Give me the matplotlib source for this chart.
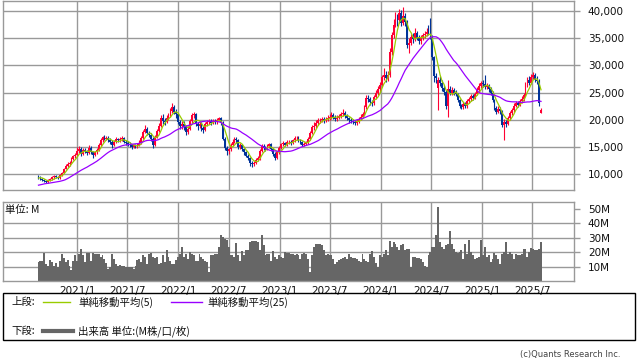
import matplotlib
matplotlib.use("Agg")
import matplotlib.pyplot as plt
import matplotlib.dates as mdates
from matplotlib.lines import Line2D
from matplotlib.patches import Rectangle
import pandas as pd
import numpy as np

# ---------------- data (prices in thousands of yen, volume in millions) ----------------
first_week = "2020-08-14"

# weekly closes before the visible window (only used to seed the moving averages)
closes_before = [7.4, 6.8, 6.4, 7.0, 7.6, 7.9, 8.0, 7.8, 8.1, 8.3, 8.0, 8.2, 8.4, 8.2,
                 7.0, 7.2, 7.4, 7.5, 7.8, 8.2, 8.8, 9.2, 9.5, 9.6]

open_k = [
    9.6, 9.4, 9.1, 8.9, 8.7, 8.5, 8.9, 9.1, 9.4, 9.6, 9.5, 9.3, 9.9, 10.3, 11.0, 11.6, 11.8, 12.1, 12.8, 13.3,
    13.5, 14.2, 14.7, 13.8, 14.4, 14.2, 13.9, 14.8, 14.1, 13.6, 14.0, 14.4, 15.4, 16.3, 16.8, 16.5, 16.7, 16.3, 16.0, 15.4,
    16.0, 16.4, 16.2, 16.4, 16.6, 16.0, 15.7, 15.6, 15.3, 15.0, 15.3, 15.1, 15.3, 15.8, 16.6, 17.8, 18.4, 17.6, 17.3, 16.5,
    15.4, 16.8, 18.0, 18.9, 20.3, 19.8, 19.6, 20.4, 20.9, 21.6, 22.4, 21.5, 21.0, 19.6, 18.8, 19.3, 18.6, 17.8, 18.4, 19.8,
    20.8, 21.0, 19.2, 18.8, 19.3, 18.5, 18.2, 19.2, 19.6, 19.8, 19.5, 19.8, 19.6, 20.0, 20.3, 19.5, 16.5, 14.8, 14.2, 14.6,
    15.4, 16.0, 16.5, 16.2, 15.0, 15.3, 14.6, 14.0, 13.4, 13.0, 12.0, 11.9, 12.1, 12.7, 12.9, 14.2, 15.2, 14.9, 14.6, 15.2,
    15.5, 14.6, 13.8, 13.0, 14.0, 14.8, 15.5, 15.8, 15.4, 15.9, 16.0, 15.7, 16.2, 16.6, 16.7, 16.2, 15.9, 15.4, 15.6, 15.8,
    16.5, 17.6, 18.6, 18.8, 19.4, 19.9, 20.0, 20.2, 19.9, 20.1, 20.4, 20.5, 20.8, 20.5, 20.2, 20.4, 20.7, 21.0, 21.2, 20.8,
    20.3, 20.0, 19.8, 19.6, 19.4, 19.7, 20.1, 20.6, 21.0, 22.3, 24.0, 23.8, 23.2, 23.0, 24.2, 24.9, 25.6, 26.4, 27.8, 28.3,
    27.6, 28.2, 32.5, 35.5, 37.5, 38.6, 38.3, 39.7, 37.8, 39.0, 38.0, 33.8, 34.2, 35.2, 34.9, 36.0, 35.0, 34.5, 35.0, 35.5,
    35.8, 36.2, 36.0, 35.2, 31.5, 28.0, 25.8, 27.3, 26.8, 25.8, 25.2, 22.5, 25.6, 25.0, 25.5, 25.0, 24.7, 23.6, 22.6, 22.4,
    22.9, 22.5, 23.4, 23.8, 24.4, 24.0, 24.8, 25.5, 26.2, 26.8, 26.6, 26.0, 26.2, 25.6, 25.0, 23.6, 22.2, 21.5, 22.0, 21.6,
    19.0, 19.6, 19.2, 20.3, 21.2, 21.8, 22.6, 23.0, 22.8, 23.4, 23.8, 24.6, 26.5, 27.3, 26.8, 27.9, 28.2, 27.4, 27.2, 21.3,
]
high_k = [
    9.8, 9.6, 9.3, 9.1, 8.9, 9.1, 9.3, 9.6, 9.8, 9.8, 9.7, 10.1, 10.5, 11.2, 11.9, 12.2, 12.4, 13.1, 13.6, 13.9,
    15.0, 15.1, 15.0, 14.8, 14.8, 14.5, 15.4, 15.1, 14.3, 14.3, 14.8, 15.7, 16.7, 17.1, 17.2, 17.0, 17.0, 16.6, 16.2, 16.3,
    16.8, 16.7, 16.8, 17.0, 16.8, 16.3, 16.1, 15.9, 15.6, 15.6, 15.6, 15.7, 16.2, 17.0, 18.2, 19.0, 18.7, 18.0, 17.6, 16.8,
    17.2, 18.4, 19.4, 20.9, 21.0, 20.3, 20.8, 21.3, 22.1, 23.1, 22.8, 22.0, 21.3, 20.0, 19.8, 19.7, 19.0, 18.9, 20.2, 21.3,
    21.5, 21.2, 19.6, 19.7, 19.6, 18.9, 19.6, 20.0, 20.2, 20.1, 20.2, 20.2, 20.4, 20.6, 20.5, 19.7, 16.8, 15.2, 14.9, 15.8,
    16.4, 16.9, 16.8, 16.4, 15.7, 15.6, 14.9, 14.3, 13.7, 13.2, 12.4, 12.5, 13.0, 13.3, 14.6, 15.5, 15.6, 15.2, 15.5, 15.8,
    15.7, 14.8, 14.1, 14.3, 15.1, 15.8, 16.1, 16.0, 16.2, 16.3, 16.2, 16.5, 17.0, 17.1, 17.0, 16.4, 16.1, 15.9, 16.1, 16.9,
    18.0, 19.1, 19.6, 19.9, 20.3, 20.4, 20.6, 20.5, 20.5, 20.9, 21.0, 21.4, 21.2, 20.9, 20.8, 21.1, 21.5, 21.9, 21.6, 21.0,
    20.6, 20.4, 20.2, 20.0, 20.1, 20.5, 21.0, 21.5, 22.8, 24.5, 24.6, 24.2, 23.7, 24.6, 25.4, 26.2, 27.0, 28.3, 29.5, 28.9,
    28.9, 33.2, 36.2, 38.5, 39.8, 39.5, 40.4, 40.2, 40.8, 39.6, 38.4, 35.0, 35.8, 35.9, 36.9, 36.4, 35.6, 35.5, 36.0, 36.4,
    36.8, 37.4, 38.8, 35.6, 31.8, 28.6, 27.8, 28.0, 27.3, 26.4, 25.5, 27.4, 26.2, 26.0, 25.9, 25.4, 25.0, 23.9, 22.9, 23.3,
    23.2, 23.8, 24.2, 24.8, 24.7, 25.2, 26.0, 26.7, 27.2, 27.3, 28.3, 26.8, 26.6, 26.0, 25.3, 23.9, 22.6, 22.5, 22.4, 21.8,
    20.2, 20.0, 20.7, 21.6, 22.2, 23.0, 23.5, 23.4, 23.9, 24.3, 25.0, 27.0, 27.8, 28.0, 28.5, 28.8, 28.6, 28.0, 27.5, 22.1,
]
low_k = [
    9.2, 8.9, 8.7, 8.5, 8.3, 8.4, 8.7, 9.0, 9.2, 9.3, 9.1, 9.2, 9.7, 10.2, 10.9, 11.3, 11.5, 12.0, 12.6, 13.0,
    13.3, 13.9, 13.4, 13.5, 13.9, 13.5, 13.7, 13.8, 12.9, 13.3, 13.8, 14.2, 15.1, 16.0, 16.2, 16.2, 16.0, 15.6, 14.9, 15.2,
    15.8, 15.9, 15.9, 16.1, 15.7, 15.3, 15.2, 15.0, 14.7, 14.8, 14.8, 14.9, 15.1, 15.6, 16.4, 17.5, 17.3, 16.9, 16.1, 14.8,
    15.2, 16.6, 17.8, 18.7, 19.3, 19.0, 19.4, 20.0, 20.6, 21.3, 21.0, 20.4, 19.2, 18.3, 18.4, 18.1, 17.2, 17.4, 18.2, 19.5,
    20.3, 18.8, 18.2, 18.5, 18.0, 17.6, 18.0, 18.9, 19.3, 19.1, 19.2, 19.2, 19.3, 19.7, 19.1, 16.2, 14.5, 13.6, 13.7, 14.3,
    15.1, 15.7, 15.8, 14.7, 14.7, 14.2, 13.6, 13.1, 12.6, 11.6, 11.4, 11.6, 11.9, 12.4, 12.7, 14.0, 14.5, 14.3, 14.4, 14.9,
    14.3, 13.3, 12.7, 12.8, 13.8, 14.6, 15.2, 15.1, 15.2, 15.6, 15.4, 15.5, 16.0, 16.3, 15.9, 15.5, 15.1, 15.1, 15.3, 15.6,
    16.3, 17.4, 18.1, 18.5, 19.1, 19.5, 19.6, 19.5, 19.6, 19.8, 20.0, 20.2, 20.1, 19.8, 19.8, 20.1, 20.4, 20.7, 20.4, 19.9,
    19.5, 19.4, 19.2, 19.0, 19.1, 19.4, 19.9, 20.3, 20.8, 22.0, 23.2, 22.8, 22.5, 22.7, 23.9, 24.6, 25.2, 26.1, 27.4, 27.0,
    27.2, 27.9, 32.0, 35.0, 37.0, 37.2, 37.8, 37.2, 37.4, 37.3, 33.2, 32.3, 33.8, 34.2, 34.5, 34.6, 34.0, 34.0, 34.6, 35.1,
    35.4, 35.5, 34.8, 31.0, 27.0, 26.8, 21.8, 26.2, 25.3, 24.6, 22.0, 20.6, 24.6, 24.6, 24.5, 24.3, 23.2, 22.2, 22.0, 22.0,
    22.1, 22.2, 23.1, 23.5, 23.6, 23.8, 24.5, 25.2, 25.9, 26.1, 25.6, 25.6, 25.1, 24.5, 23.2, 21.8, 21.0, 21.2, 21.0, 18.6,
    16.3, 18.7, 19.0, 20.0, 20.9, 21.5, 22.3, 22.4, 22.5, 23.1, 23.5, 24.4, 26.1, 26.4, 26.6, 27.5, 26.9, 26.6, 22.6, 21.2,
]
close_k = [
    9.4, 9.1, 8.9, 8.7, 8.5, 8.9, 9.1, 9.4, 9.6, 9.5, 9.3, 9.9, 10.3, 11.0, 11.6, 11.8, 12.1, 12.8, 13.3, 13.5,
    14.2, 14.7, 13.8, 14.4, 14.2, 13.9, 14.8, 14.1, 13.6, 14.0, 14.4, 15.4, 16.3, 16.8, 16.5, 16.7, 16.3, 16.0, 15.4, 16.0,
    16.4, 16.2, 16.4, 16.6, 16.0, 15.7, 15.6, 15.3, 15.0, 15.3, 15.1, 15.3, 15.8, 16.6, 17.8, 18.4, 17.6, 17.3, 16.5, 15.4,
    16.8, 18.0, 18.9, 20.3, 19.8, 19.6, 20.4, 20.9, 21.6, 22.4, 21.5, 21.0, 19.6, 18.8, 19.3, 18.6, 17.8, 18.4, 19.8, 20.8,
    21.0, 19.2, 18.8, 19.3, 18.5, 18.2, 19.2, 19.6, 19.8, 19.5, 19.8, 19.6, 20.0, 20.3, 19.5, 16.5, 14.8, 14.2, 14.6, 15.4,
    16.0, 16.5, 16.2, 15.0, 15.3, 14.6, 14.0, 13.4, 13.0, 12.0, 11.9, 12.1, 12.7, 12.9, 14.2, 15.2, 14.9, 14.6, 15.2, 15.5,
    14.6, 13.8, 13.0, 14.0, 14.8, 15.5, 15.8, 15.4, 15.9, 16.0, 15.7, 16.2, 16.6, 16.7, 16.2, 15.9, 15.4, 15.6, 15.8, 16.5,
    17.6, 18.6, 18.8, 19.4, 19.9, 20.0, 20.2, 19.9, 20.1, 20.4, 20.5, 20.8, 20.5, 20.2, 20.4, 20.7, 21.0, 21.2, 20.8, 20.3,
    20.0, 19.8, 19.6, 19.4, 19.7, 20.1, 20.6, 21.0, 22.3, 24.0, 23.8, 23.2, 23.0, 24.2, 24.9, 25.6, 26.4, 27.8, 28.3, 27.6,
    28.2, 32.5, 35.5, 37.5, 38.6, 38.3, 39.7, 37.8, 39.0, 38.0, 33.8, 34.2, 35.2, 34.9, 36.0, 35.0, 34.5, 35.0, 35.5, 35.8,
    36.2, 36.0, 35.2, 31.5, 28.0, 27.6, 27.3, 26.8, 25.8, 25.2, 22.5, 25.6, 25.0, 25.5, 25.0, 24.7, 23.6, 22.6, 22.4, 22.9,
    22.5, 23.4, 23.8, 24.4, 24.0, 24.8, 25.5, 26.2, 26.8, 26.6, 26.0, 26.2, 25.6, 25.0, 23.6, 22.2, 21.5, 22.0, 21.6, 19.0,
    19.6, 19.2, 20.3, 21.2, 21.8, 22.6, 23.0, 22.8, 23.4, 23.8, 24.6, 26.5, 27.3, 26.8, 27.9, 28.2, 27.4, 27.2, 23.0, 21.8,
]
volume_m = [
    13.0, 14.1, 14.1, 19.2, 11.8, 10.6, 14.6, 13.4, 10.6, 12.3, 10.0, 14.1, 18.3, 16.0, 13.0, 14.6, 10.6, 7.6, 14.1, 17.6,
    14.1, 18.3, 22.2, 17.6, 13.0, 19.2, 19.2, 14.1, 19.2, 18.8, 18.5, 18.8, 16.4, 17.6, 15.3, 12.3, 8.3, 9.5, 18.8, 15.3,
    11.8, 10.6, 11.3, 10.6, 10.6, 10.0, 10.0, 9.5, 9.5, 8.3, 10.6, 14.6, 15.3, 13.0, 17.6, 16.9, 11.8, 18.8, 19.2, 16.4,
    16.0, 16.4, 11.8, 12.5, 17.6, 13.0, 21.1, 16.4, 14.1, 11.8, 11.8, 14.6, 16.4, 18.8, 23.8, 16.4, 18.8, 15.3, 19.9, 18.8,
    17.6, 14.1, 13.7, 18.3, 16.9, 15.3, 14.1, 13.0, 6.0, 17.6, 18.1, 18.3, 18.3, 23.4, 31.5, 30.3, 29.0, 28.0, 23.4, 17.6,
    17.6, 16.9, 26.2, 17.6, 14.1, 20.6, 17.6, 21.5, 21.5, 26.9, 27.5, 27.3, 27.5, 26.9, 21.1, 31.5, 24.5, 17.6, 18.8, 18.8,
    14.1, 20.6, 16.4, 15.3, 17.6, 16.9, 16.0, 19.9, 19.2, 19.0, 18.8, 18.8, 17.6, 18.3, 17.6, 15.3, 18.8, 19.2, 18.3, 15.3,
    6.0, 17.6, 23.4, 25.2, 25.7, 25.2, 24.5, 21.1, 17.6, 18.8, 17.6, 17.6, 15.3, 11.8, 13.0, 14.6, 15.3, 16.0, 16.4, 15.3,
    18.3, 16.4, 16.2, 16.0, 15.3, 14.1, 13.0, 18.3, 15.3, 14.1, 13.0, 18.8, 20.6, 16.4, 12.3, 9.5, 17.6, 16.9, 18.8, 21.1,
    17.6, 27.5, 23.4, 26.9, 25.7, 23.8, 21.1, 24.5, 25.7, 21.1, 22.2, 22.2, 9.5, 16.9, 16.4, 16.2, 16.0, 15.3, 13.0, 10.6,
    9.5, 17.6, 19.9, 23.4, 23.8, 31.5, 51.2, 26.9, 23.4, 22.2, 24.5, 25.7, 34.5, 25.7, 22.2, 19.9, 19.2, 19.9, 21.1, 15.3,
    25.2, 18.3, 28.5, 19.9, 17.6, 15.3, 15.8, 16.4, 28.5, 17.6, 23.4, 16.4, 17.6, 13.0, 15.3, 19.2, 17.6, 15.3, 11.8, 18.8,
    19.9, 26.9, 18.8, 19.9, 18.8, 15.3, 18.8, 18.0, 17.6, 18.8, 22.2, 22.2, 16.9, 20.0, 22.9, 22.2, 21.1, 21.1, 22.2, 26.9,
]

x_tick_dates = ["2021-01-01", "2021-07-01", "2022-01-01", "2022-07-01", "2023-01-01",
                "2023-07-01", "2024-01-01", "2024-07-01", "2025-01-01", "2025-07-01"]
x_tick_labels = ["2021/1", "2021/7", "2022/1", "2022/7", "2023/1",
                 "2023/7", "2024/1", "2024/7", "2025/1", "2025/7"]
price_ticks = [10000, 15000, 20000, 25000, 30000, 35000, 40000]
volume_ticks = [10, 20, 30, 40, 50]
volume_grid = [10, 20, 30, 40]
x_range = ["2020-04-08", "2025-11-28"]

# ---------------- styling ----------------
UP = "#ff0033"
DOWN = "#003399"
MA5_C = "#99cc00"
MA25_C = "#9900ff"
VOL_C = "#666666"
GRID_C = "#999999"
TXT = "#111111"
JP = ["Noto Sans CJK JP", "DejaVu Sans"]

W, H = 638, 362
fig = plt.figure(figsize=(W / 100, H / 100), dpi=100)
fig.patch.set_facecolor("white")

def fx(px):
    return px / W

def fy(py):
    return 1 - py / H

ax_p = fig.add_axes([fx(3), fy(190), fx(571), 189 / H])
ax_v = fig.add_axes([fx(3), fy(281), fx(571), 79 / H])

dates = pd.date_range(first_week, periods=len(close_k), freq="7D")
xd = mdates.date2num(dates)
o = np.array(open_k) * 1000
h = np.array(high_k) * 1000
l = np.array(low_k) * 1000
c = np.array(close_k) * 1000

all_close = pd.Series(np.array(closes_before + close_k) * 1000)
ma5 = all_close.rolling(5).mean().to_numpy()[len(closes_before):]
ma25 = all_close.rolling(25).mean().to_numpy()[len(closes_before):]

xt = mdates.date2num(pd.to_datetime(x_tick_dates))
xlim = mdates.date2num(pd.to_datetime(x_range))

for ax in (ax_p, ax_v):
    ax.set_xlim(*xlim)
    ax.set_xticks(xt)
    ax.grid(False)
    for s in ax.spines.values():
        s.set_color(GRID_C)
        s.set_linewidth(1.0)
    ax.yaxis.tick_right()
    ax.tick_params(axis="y", colors=GRID_C, length=4, width=1.0, labelcolor=TXT,
                   labelsize=7.5, pad=6)
    ax.tick_params(axis="x", length=0, labelsize=7.5, labelcolor=TXT)
    for v in xt:
        ax.axvline(v, color=GRID_C, lw=1.0, zorder=0)

for v in price_ticks:
    ax_p.axhline(v, color=GRID_C, lw=1.0, zorder=0)
for v in volume_grid:
    ax_v.axhline(v, color=GRID_C, lw=1.0, zorder=0)

# candles
up = c >= o
colors = np.where(up, UP, DOWN)
ax_p.vlines(xd, l, h, colors=colors, linewidth=0.8, zorder=2)
body_bottom = np.minimum(o, c)
body_h = np.maximum(np.abs(c - o), 80)
ax_p.bar(xd, body_h, bottom=body_bottom, width=6.6, color=colors, linewidth=0, zorder=3,
         antialiased=False)
ax_p.plot(xd, ma5, color=MA5_C, lw=0.9, zorder=4)
ax_p.plot(xd, ma25, color=MA25_C, lw=0.9, zorder=4)

ax_p.set_ylim(7100, 41840)
ax_p.set_yticks(price_ticks)
ax_p.set_yticklabels([f"{v:,}" for v in price_ticks])
ax_p.set_xticklabels([])

# volume
ax_v.bar(xd, volume_m, width=7.0, color=VOL_C, linewidth=0, zorder=2)
ax_v.set_ylim(0, 54.5)
ax_v.set_yticks(volume_ticks)
ax_v.set_yticklabels([f"{v}M" for v in volume_ticks])
ax_v.set_xticklabels(x_tick_labels)
ax_v.text(0.004, 0.9, "単位: M", transform=ax_v.transAxes,
          fontsize=7.5, family=JP, va="center", ha="left", color=TXT)

# legend box
fig.patches.append(Rectangle((fx(3), fy(340)), fx(632), 47 / H, transform=fig.transFigure,
                             fill=False, edgecolor="#000000", linewidth=1.0))
ty1, ty2 = fy(302), fy(331)
fig.text(fx(11), ty1, "上段:", fontsize=7.5, family=JP, va="center", color=TXT)
fig.lines.append(Line2D([fx(43), fx(70)], [ty1, ty1], transform=fig.transFigure, color=MA5_C, lw=1.0))
fig.text(fx(78), ty1, "単純移動平均(5)", fontsize=7.5, family=JP, va="center", color=TXT)
fig.lines.append(Line2D([fx(171), fx(202)], [ty1, ty1], transform=fig.transFigure, color=MA25_C, lw=1.0))
fig.text(fx(207), ty1, "単純移動平均(25)", fontsize=7.5, family=JP, va="center", color=TXT)
fig.text(fx(11), ty2, "下段:", fontsize=7.5, family=JP, va="center", color=TXT)
fig.lines.append(Line2D([fx(43), fx(73)], [ty2, ty2], transform=fig.transFigure, color=VOL_C, lw=3.0))
fig.text(fx(78), ty2, "出来高 単位:(M株/口/枚)", fontsize=7.5, family=JP, va="center", color=TXT)
fig.text(fx(620), fy(355), "(c)Quants Research Inc.", fontsize=6.0, ha="right", va="center", color="#444444")

fig.savefig("out.png", dpi=100, facecolor="white")
